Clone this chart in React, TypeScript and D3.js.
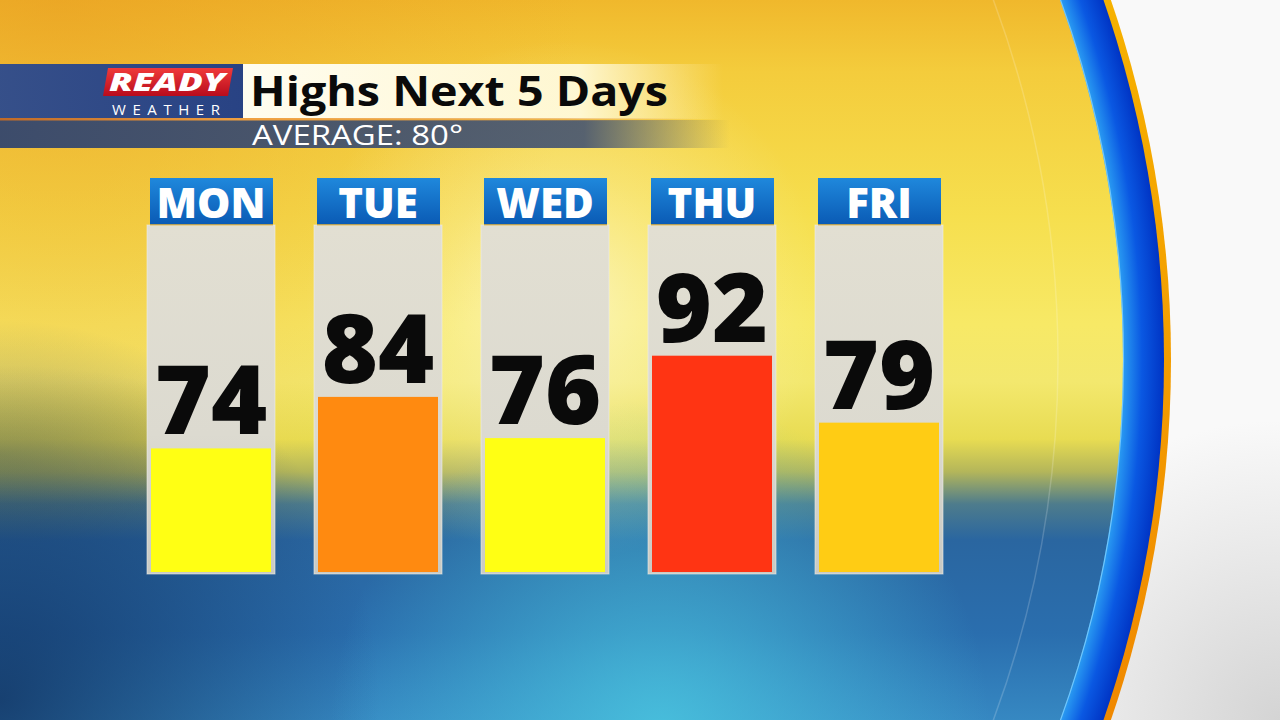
import React from "react";
import * as d3 from "d3";

const days = ["MON", "TUE", "WED", "THU", "FRI"];
const highs = [74, 84, 76, 92, 79];
const barColors = ["#ffff14", "#ff8a10", "#ffff14", "#ff3413", "#ffcc14"];
const titleText = "Highs Next 5 Days";
const subtitleText = "AVERAGE: 80°";
const logoTop = "READY";
const logoBottom = "WEATHER";

const W = 1280;
const H = 720;

export default function App() {
  const x = d3.scaleBand<string>().domain(days).range([147, 943]).paddingInner(0.2335).paddingOuter(0);
  const y = d3.scaleLinear().domain([50, 100]).range([572, 314.5]);
  const bw = x.bandwidth();
  const cx = 63, cy = 360;
  const rIn = 1060, rBlue = 1101, rOrange = 1108;
  const font = "'Open Sans', 'DejaVu Sans', sans-serif";

  return (
    <svg width={W} height={H} viewBox={`0 0 ${W} ${H}`} style={{ position: "absolute", left: 0, top: 0, display: "block" }}>
      <defs>
        <linearGradient id="bgV" x1="0" y1="0" x2="0" y2="1">
          <stop offset="0" stopColor="#f0b82c" />
          <stop offset="0.1" stopColor="#f4cc3c" />
          <stop offset="0.3" stopColor="#f6df4e" />
          <stop offset="0.45" stopColor="#f7e966" />
          <stop offset="0.53" stopColor="#f3e86e" />
          <stop offset="0.61" stopColor="#e8dc52" />
          <stop offset="0.655" stopColor="#b4b65a" />
          <stop offset="0.7" stopColor="#4e7c8c" />
          <stop offset="0.75" stopColor="#2a66a0" />
          <stop offset="0.88" stopColor="#2a6eae" />
          <stop offset="1" stopColor="#3688c2" />
        </linearGradient>
        <radialGradient id="leftDark" cx="0" cy="700" r="380" gradientUnits="userSpaceOnUse">
          <stop offset="0" stopColor="#10305e" stopOpacity="0.8" />
          <stop offset="1" stopColor="#10305e" stopOpacity="0" />
        </radialGradient>
        <radialGradient id="leftOlive">
          <stop offset="0" stopColor="#5a6a40" stopOpacity="0.3" />
          <stop offset="1" stopColor="#5a6a40" stopOpacity="0" />
        </radialGradient>
        <radialGradient id="topOrange" cx="60" cy="0" r="520" gradientUnits="userSpaceOnUse">
          <stop offset="0" stopColor="#e89a20" stopOpacity="0.55" />
          <stop offset="1" stopColor="#e89a20" stopOpacity="0" />
        </radialGradient>
        <radialGradient id="sun" cx="565" cy="300" r="260" gradientUnits="userSpaceOnUse">
          <stop offset="0" stopColor="#ffffff" stopOpacity="0.55" />
          <stop offset="0.5" stopColor="#fffbe0" stopOpacity="0.25" />
          <stop offset="1" stopColor="#fffbe0" stopOpacity="0" />
        </radialGradient>
        <radialGradient id="botGlow" cx="660" cy="730" r="330" gradientUnits="userSpaceOnUse">
          <stop offset="0" stopColor="#4ccbe2" stopOpacity="0.8" />
          <stop offset="1" stopColor="#4ccbe2" stopOpacity="0" />
        </radialGradient>
        <radialGradient id="blueBand" cx={cx} cy={cy} r={rBlue} gradientUnits="userSpaceOnUse">
          <stop offset={rIn / rBlue} stopColor="#2a9cf2" />
          <stop offset="0.98" stopColor="#0a58e2" />
          <stop offset="1" stopColor="#0034c4" />
        </radialGradient>
        <linearGradient id="orangeBand" x1="0" y1="0" x2="0" y2="1">
          <stop offset="0" stopColor="#f8e000" />
          <stop offset="0.35" stopColor="#f6b000" />
          <stop offset="0.65" stopColor="#f08a00" />
          <stop offset="1" stopColor="#e85c00" />
        </linearGradient>
        <radialGradient id="whiteBg" cx="1280" cy="720" r="300" gradientUnits="userSpaceOnUse">
          <stop offset="0" stopColor="#d4d4d4" />
          <stop offset="1" stopColor="#f9f9f9" />
        </radialGradient>
        <clipPath id="inner">
          <circle cx={cx} cy={cy} r={rIn} />
        </clipPath>
        <linearGradient id="hdrBox" x1="0" y1="0" x2="0" y2="1">
          <stop offset="0" stopColor="#1f88dc" />
          <stop offset="1" stopColor="#0a5ab4" />
        </linearGradient>
        <linearGradient id="panel" x1="0" y1="0" x2="0" y2="1">
          <stop offset="0" stopColor="#e2dfd2" />
          <stop offset="0.6" stopColor="#dcdad0" />
          <stop offset="1" stopColor="#c9cac4" />
        </linearGradient>
        <linearGradient id="titleBox" x1="0" y1="0" x2="1" y2="0">
          <stop offset="0" stopColor="#fffdf0" stopOpacity="1" />
          <stop offset="0.7" stopColor="#fff9d8" stopOpacity="0.95" />
          <stop offset="1" stopColor="#fff4c0" stopOpacity="0" />
        </linearGradient>
        <linearGradient id="navy" x1="0" y1="0" x2="1" y2="0">
          <stop offset="0" stopColor="#2c4a8e" />
          <stop offset="1" stopColor="#1e3c88" />
        </linearGradient>
        <linearGradient id="subBand" x1="0" y1="0" x2="1" y2="0">
          <stop offset="0" stopColor="#33466e" stopOpacity="0.95" />
          <stop offset="0.8" stopColor="#3a4c72" stopOpacity="0.85" />
          <stop offset="1" stopColor="#3a4c72" stopOpacity="0" />
        </linearGradient>
        <linearGradient id="orangeLine" x1="0" y1="0" x2="1" y2="0">
          <stop offset="0" stopColor="#c06a28" />
          <stop offset="0.35" stopColor="#f0a040" />
          <stop offset="0.8" stopColor="#e8a040" stopOpacity="0.6" />
          <stop offset="1" stopColor="#e8a040" stopOpacity="0" />
        </linearGradient>
        <linearGradient id="redLogo" x1="0" y1="0" x2="0" y2="1">
          <stop offset="0" stopColor="#f03a3a" />
          <stop offset="1" stopColor="#b80c1c" />
        </linearGradient>
      </defs>

      {/* outside white */}
      <rect x={0} y={0} width={W} height={H} fill="url(#whiteBg)" />
      {/* arc bands */}
      <circle cx={cx} cy={cy} r={rOrange} fill="url(#orangeBand)" />
      <circle cx={cx} cy={cy} r={rBlue} fill="url(#blueBand)" />

      {/* inner scene */}
      <g clipPath="url(#inner)">
        <rect x={0} y={0} width={W} height={H} fill="url(#bgV)" />
        <rect x={0} y={0} width={W} height={H} fill="url(#topOrange)" />
        <ellipse cx={0} cy={455} rx={260} ry={90} fill="url(#leftOlive)" />
        <rect x={0} y={0} width={W} height={H} fill="url(#leftDark)" />
        <rect x={0} y={0} width={W} height={H} fill="url(#sun)" />
        <rect x={0} y={0} width={W} height={H} fill="url(#botGlow)" />
        <circle cx={cx - 40} cy={cy} r={rIn - 25} fill="none" stroke="#ffffff" strokeOpacity={0.18} strokeWidth={1.5} />
      </g>
      <circle cx={cx} cy={cy} r={rIn + 0.5} fill="none" stroke="#8fd8ff" strokeOpacity={0.7} strokeWidth={1.2} />

      {/* header banner */}
      <rect x={0} y={64} width={243} height={55} fill="url(#navy)" opacity={0.95} />
      <rect x={243} y={64} width={480} height={55} fill="url(#titleBox)" />
      <rect x={0} y={120} width={730} height={28} fill="url(#subBand)" />
      <rect x={0} y={118} width={700} height={2.5} fill="url(#orangeLine)" />
      <polygon points="108,68 233,68 228,96 103,96" fill="url(#redLogo)" />
      <text x={167} y={91} textAnchor="middle" fill="#ffffff" fontFamily={font} fontWeight={800} fontStyle="italic" fontSize={25} textLength={116} lengthAdjust="spacingAndGlyphs">{logoTop}</text>
      <text x={166} y={115} textAnchor="middle" fill="#ffffff" fontFamily={font} fontWeight={400} fontSize={15} textLength={108} lengthAdjust="spacing">{logoBottom}</text>
      <text x={250} y={106} fill="#0a0a0a" fontFamily={font} fontWeight={700} fontSize={42} textLength={418} lengthAdjust="spacingAndGlyphs">{titleText}</text>
      <text x={252} y={145} fill="#ffffff" fontFamily={font} fontWeight={400} fontSize={28} textLength={211} lengthAdjust="spacingAndGlyphs">{subtitleText}</text>

      {/* columns */}
      {days.map((d, i) => {
        const x0 = x(d) as number;
        const v = highs[i];
        const top = y(v);
        return (
          <g key={d}>
            <rect x={x0} y={225} width={bw} height={349} fill="url(#panel)" stroke="#eeeeea" strokeOpacity={0.6} strokeWidth={1} />
            <rect x={x0 + 4} y={top} width={bw - 8} height={y(50) - top} fill={barColors[i]} />
            <rect x={x0 + 3} y={178} width={bw - 5} height={47} fill="url(#hdrBox)" />
            <rect x={x0 + 3} y={224} width={bw - 5} height={1.5} fill="#e0b040" opacity={0.8} />
            <text x={x0 + bw / 2} y={218} textAnchor="middle" fill="#ffffff" fontFamily={font} fontWeight={800} fontSize={42}>{d}</text>
            <text x={x0 + bw / 2} y={top - 14} textAnchor="middle" fill="#0a0a0a" fontFamily={font} fontWeight={800} fontSize={96}>{v}</text>
          </g>
        );
      })}
    </svg>
  );
}
